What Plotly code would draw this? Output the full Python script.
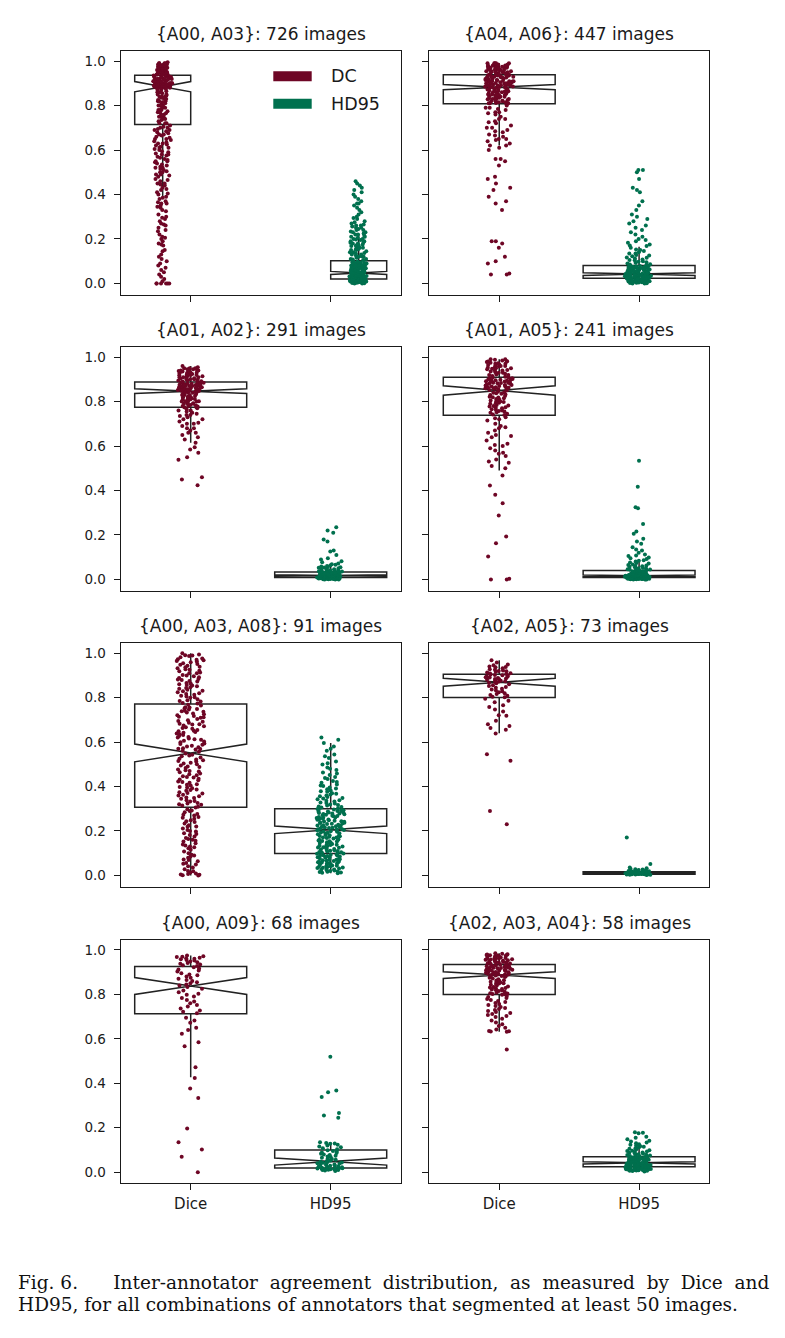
import plotly.graph_objects as go

# ---------------- data ----------------
TITLES = ["{A00, A03}: 726 images", "{A04, A06}: 447 images",
          "{A01, A02}: 291 images", "{A01, A05}: 241 images",
          "{A00, A03, A08}: 91 images", "{A02, A05}: 73 images",
          "{A00, A09}: 68 images", "{A02, A03, A04}: 58 images"]
CATEGORIES = ["Dice", "HD95"]
SERIES = ["DC", "HD95"]
Y_TICKS = [0.0, 0.2, 0.4, 0.6, 0.8, 1.0]
Y_TICK_LABELS = ["0.0", "0.2", "0.4", "0.6", "0.8", "1.0"]

# sample values (in percent)
dc_a00_a03 = [99, 99, 99, 98, 98, 98, 98, 98, 97, 97, 97, 97, 97, 97, 96, 96, 96, 96, 96, 96, 95, 95, 95, 95, 95, 95,
              94, 94, 94, 94, 94, 93, 93, 93, 93, 99.5, 98.5, 98.5, 97.5, 97.5, 96.5, 96.5, 95.5, 95.5, 94.5, 94.5,
              93.5, 93.5, 98, 97, 96, 95, 94, 97, 96, 95, 98, 97, 96, 95, 94, 93, 99, 98, 97, 96,
              92, 92, 92, 92, 91, 91, 91, 91, 90, 90, 90, 90, 89, 89, 89, 89, 88.5, 88.5, 92.5, 91.5, 90.5, 89.5,
              92, 91, 90, 89, 92, 91, 90, 89, 88, 92, 91, 90, 89, 88, 91, 90, 89, 92.5, 91.5, 90.5, 89.5, 88.8,
              93, 92, 91, 90, 89, 88,
              88, 87, 87, 86, 86, 85, 85, 84, 84, 83, 83, 82, 82, 81, 80, 80, 79, 79, 78, 77, 77, 76, 75, 75, 74,
              73, 72, 72, 87.5, 86.5, 85.5, 84.5, 83.5, 82.5, 81.5, 80.5, 79.5, 78.5, 77.5, 76.5, 74.5, 73.5,
              88, 86, 84, 82, 80, 78, 76, 74, 72,
              71, 70, 70, 69, 69, 68, 67, 67, 66, 65, 65, 64, 63, 63, 62, 61, 61, 60, 59, 58, 58, 57, 56, 55, 55,
              54, 53, 52, 52, 51, 50, 50, 49, 49, 48, 47, 46, 45, 45, 44, 43, 42, 41, 40, 39, 38, 37, 36, 36, 35,
              34, 33, 31, 30, 29, 28, 27, 26, 25, 24, 22, 21, 20, 19, 18, 17, 15, 13, 11, 10, 8, 7, 6, 4, 3, 1,
              0, 0, 0, 0, 0, 0,
              70.5, 69.5, 68.5, 67.5, 66.5, 65.5, 64.5, 63.5, 62.5, 61.5, 60.5, 59.5, 58.5, 57.5, 56.5, 55.5,
              54.5, 53.5, 52.5, 51.5, 50.5, 48.5, 46.5, 44.5, 42.5, 40.5, 38.5, 36.5, 34.5, 32.5, 29.5, 26.5,
              23.5, 20.5, 17.5, 14.5, 12, 9, 5, 2]
hd_a00_a03 = [0, 0, 0.5, 0.5, 1, 1, 1, 1.5, 1.5, 2, 0.3, 0.8, 1.2, 1.7, 0.6, 1.1, 1.6, 0.2, 0.9, 1.4, 1.9, 0.4,
              1.3, 1.8, 0.7, 1, 1.5, 0.5, 1.2, 1.8, 0.1, 0.9, 1.6, 1.3, 0.6, 1.9, 0.8, 1.4, 1.1, 1.7,
              2, 2, 2.5, 2.5, 3, 3, 3, 3.5, 3.5, 4, 4, 4, 4.5, 4.5, 5, 5, 5, 5.5, 5.5, 6, 6, 6.5, 6.5, 7, 7,
              7.5, 7.5, 8, 8, 8.5, 8.5, 9, 9, 9.5, 9.5, 10, 2.2, 2.8, 3.2, 3.8, 4.2, 4.8, 5.2, 5.8, 6.2, 6.8,
              7.2, 7.8, 8.2, 8.8, 9.2, 9.8, 2.4, 3.1, 3.6, 4.1, 4.7, 5.3, 5.9, 6.4, 7.1, 7.6, 8.3, 8.9, 9.4,
              2.6, 3.4, 4.3, 5.1, 6.1, 7.3, 8.1, 9.1, 3.3, 4.6, 5.7, 6.6, 7.4, 2.9, 3.9, 4.9,
              10.5, 11, 11, 12, 12, 13, 13, 14, 14, 15, 15, 16, 16, 17, 17, 18, 18, 19, 19, 20, 20, 21, 21, 22,
              22, 23, 23, 24, 24, 25, 25, 26, 26, 27, 28, 29, 30, 31, 32, 33, 34, 35, 36, 36, 37, 38, 39, 40,
              41, 42, 43, 44, 45, 46, 11.5, 12.5, 13.5, 14.5, 15.5, 16.5, 17.5, 18.5, 19.5, 20.5, 22.5, 24.5,
              26.5, 10.8, 12.2, 13.7, 15.2, 16.8, 18.3, 19.8, 21.4, 23.3, 25.6, 27.5, 29.4]

dc_a04_a06 = [99, 99, 99, 98.5, 98.5, 98, 98, 98, 97.5, 97.5, 97, 97, 97, 96.5, 96.5, 96, 96, 96, 95.5, 95.5, 95,
              95, 95, 94.5, 94.5, 94, 94, 99, 98, 97, 96, 95, 94, 98, 97, 96, 95, 94, 99, 98, 97, 96, 95, 94,
              97.5, 96.5, 95.5,
              93.5, 93.5, 93, 93, 92.5, 92.5, 92, 92, 91.5, 91.5, 91, 91, 90.5, 90.5, 90, 90, 89.5, 89.5, 89, 89,
              88.5, 88.5, 93, 92, 91, 90, 89, 93, 92, 91, 90, 89, 88.4, 93.2, 92.2, 91.2, 90.2, 89.2, 93.8, 92.8,
              91.8, 90.8, 89.8, 88.8, 92.6, 91.4, 90.6, 89.4, 88.6, 93.4,
              88, 88, 87.5, 87, 87, 86.5, 86, 86, 85.5, 85, 85, 84.5, 84, 84, 83.5, 83, 83, 82.5, 82, 82, 81.5,
              81, 81, 88, 87, 86, 85, 84, 83, 82, 81, 87.5, 86.5, 85.5, 84.5, 83.5, 82.5, 81.5, 80.9, 87.2, 86.2,
              85.2, 84.2, 83.2, 82.2, 81.2, 88.2, 86.8, 84.8, 82.8,
              80, 79, 79, 78, 77, 77, 76, 75, 74, 74, 73, 72, 71, 70, 70, 69, 68, 67, 66, 65, 65, 64, 63, 62,
              78.5, 76.5, 72.5, 68.5, 66.5, 64.5,
              61, 62, 60, 56, 55, 56, 53, 48, 47, 45, 43, 42, 39, 37, 36, 33, 19, 18, 19, 16, 12, 10, 9, 4, 4, 4.5]
hd_a04_a06 = [0, 0, 0.3, 0.5, 0.8, 1, 1, 1.2, 1.5, 1.5, 1.7, 2, 2, 2.2, 0.2, 0.6, 0.9, 1.1, 1.3, 1.6, 1.8, 2.1,
              0.4, 0.7, 1.4, 1.9, 0.1, 1.2, 1.7, 2.2, 0.5, 1, 1.5, 2, 0.8, 1.3, 1.8, 0.3, 0.9, 1.6, 2.1,
              2.4, 2.6, 2.8, 3, 3, 3.2, 3.4, 3.6, 3.8, 4, 4, 4.2, 4.4, 4.6, 4.8, 5, 5, 5.3, 5.6, 5.9, 6.2, 6.5,
              6.8, 7.1, 7.4, 7.7, 8, 2.5, 2.9, 3.3, 3.7, 4.1, 4.5, 4.9, 5.4, 5.8, 6.3, 6.7, 7.2, 7.6, 7.9,
              2.7, 3.1, 3.5, 3.9, 4.3, 4.7, 5.2, 5.7, 6.1, 6.6, 7, 7.5, 2.4, 3.2, 4, 4.8, 5.5, 6.4, 7.3,
              3, 3.6, 4.2, 4.4, 3.8, 4.6, 5.1, 6, 6.9, 7.8, 2.8, 3.4,
              8.3, 8.6, 9, 9.3, 9.7, 10, 10.4, 10.8, 11.2, 11.7, 12.2, 12.8, 13.4, 14, 14.6, 15.3, 16, 16.8,
              17.5, 18.3, 19, 20, 21, 22, 23, 24, 25, 26, 27, 28, 29, 30, 31, 8.5, 9.5, 10.5, 11.5, 12.5, 13.5,
              15, 17, 19.5, 33, 35, 37, 41, 42, 43, 47, 50, 51, 51]

dc_a01_a02 = [96, 95.5, 95, 95, 94.5, 94, 94, 93.5, 93, 93, 92.5, 92, 92, 91.5, 91, 91, 90.5, 90, 90, 89.5, 89, 89,
              95, 94, 93, 92, 91, 90, 89.2, 94.6, 93.4, 92.4, 91.4, 90.4, 89.6, 93.8, 92.8, 91.8, 90.8, 89.8,
              88.5, 88.5, 88, 88, 87.5, 87.5, 87, 87, 86.5, 86.5, 86, 86, 85.5, 85.5, 85, 85, 88.2, 87.8, 87.2,
              86.8, 86.2, 85.8, 85.2, 84.8, 88.6, 87.4, 86.4, 85.4, 84.9, 88, 87, 86, 85, 87.6, 86.6, 85.6, 84.8,
              84.5, 84, 84, 83.5, 83, 83, 82.5, 82, 82, 81.5, 81, 81, 80.5, 80, 80, 79.5, 79, 79, 78.5, 78, 77.5,
              84.2, 83.2, 82.2, 81.2, 80.2, 79.2, 78.2, 77.8, 84, 83, 82, 81, 80, 79, 78, 77.5,
              77, 76.5, 76, 75.5, 75, 74.5, 74, 73.5, 73, 72, 71, 70.5, 70, 69, 68, 67, 66, 65, 64, 63,
              76, 74, 72, 70, 68, 66, 61.5, 59.5, 58.5, 57, 55, 53.8, 46, 45, 42.4]
hd_a01_a02 = [0, 0, 0.2, 0.3, 0.4, 0.5, 0.5, 0.6, 0.7, 0.8, 0.8, 0.9, 0.1, 0.3, 0.5, 0.7, 0.9, 0.2, 0.4, 0.6, 0.8,
              0, 0.3, 0.6, 0.9, 0.1, 0.4, 0.7, 0.5, 0.2, 0.8, 0.6, 0.3, 0.7, 0.4,
              1, 1, 1.1, 1.2, 1.3, 1.4, 1.5, 1.5, 1.6, 1.7, 1.8, 1.9, 2, 2, 2.1, 2.2, 2.3, 2.4, 2.5, 2.6, 2.7,
              2.8, 2.9, 3, 3.1, 3.2, 1, 1.2, 1.4, 1.6, 1.8, 2, 2.2, 2.4, 2.6, 2.8, 3, 3.2, 1.1, 1.3, 1.5, 1.7,
              1.9, 2.1, 2.3, 2.5, 2.7, 2.9, 3.1, 1.5, 1.8, 2.1, 2.4, 1.2, 1.6, 2, 2.6, 3, 1.4, 1.9, 2.2, 1.7,
              1.3, 2.8, 1, 2.5, 1.8, 2.3, 1.6,
              3.4, 3.6, 3.8, 4, 4.2, 4.5, 4.8, 5, 5.3, 5.6, 6, 6.4, 6.8, 7.2, 7.7, 8.2, 3.5, 4.1, 4.6, 5.2, 5.8,
              6.6, 3.7, 4.4, 5.5, 9, 9.5, 11, 12.6, 13, 17, 18, 21, 22, 23.5]

dc_a01_a05 = [99, 99, 98.5, 98, 98, 97.5, 97, 97, 96.5, 96, 96, 95.5, 95, 95, 94.5, 94, 94, 93.5, 93, 93, 92.5, 92,
              92, 91.5, 91, 91.2, 98.2, 97.2, 96.2, 95.2, 94.2, 93.2, 92.2, 98.8, 97.8, 96.8, 95.8, 94.8,
              90.5, 90.5, 90, 90, 89.5, 89.5, 89, 89, 88.5, 88.5, 88, 88, 87.5, 87.5, 87, 87, 86.5, 86.5, 86, 86,
              85.5, 85.5, 85, 90.2, 89.2, 88.2, 87.2, 86.2, 85.2, 90.8, 89.8, 88.8, 87.8, 86.8, 85.8, 89.6, 88.4,
              86.4,
              84.5, 84, 83.5, 83, 82.5, 82, 81.5, 81, 80.5, 80, 79.5, 79, 78.5, 78, 77.5, 77, 76.5, 76, 75.5, 75,
              74.5, 74, 84.2, 83.2, 82.2, 81.2, 80.2, 79.2, 78.2, 77.2, 76.2, 75.2, 83.8, 81.8, 79.8, 77.8, 75.8,
              74.2,
              73, 72, 71.5, 70, 69, 68, 67, 66, 65, 64, 62.5, 61, 60, 59, 58, 57, 55.5, 54, 53, 51, 50,
              72.5, 68.5, 64.5, 60.5, 56.5, 52.5, 46.8, 42.3, 38.1, 34.3, 28.8, 19.3, 16.3, 10.3, 0, 0.3, 0]
hd_a01_a05 = [0, 0, 0.1, 0.2, 0.3, 0.3, 0.4, 0.5, 0.5, 0.6, 0.7, 0.7, 0.2, 0.4, 0.6, 0.1, 0.3, 0.5, 0.7, 0, 0.2,
              0.4, 0.6, 0.3, 0.5, 0.1, 0.6, 0.4, 0.2, 0.7, 0.5, 0.3, 0.6, 0.4, 0.2,
              0.8, 0.9, 1, 1, 1.1, 1.2, 1.3, 1.4, 1.5, 1.5, 1.6, 1.7, 1.8, 1.9, 2, 2.1, 2.2, 2.3, 2.5, 2.7, 2.9,
              3.1, 3.3, 3.5, 3.7, 3.9, 0.9, 1.1, 1.3, 1.5, 1.7, 1.9, 2.2, 2.6, 3, 3.4, 3.8, 1, 1.2, 1.4, 1.6,
              1.8, 2, 2.4, 2.8, 3.2, 3.6, 1.1, 1.3, 1.5, 1.6, 1.4, 1.2, 1.7, 2.1, 2.5, 1, 1.8, 1.5, 1.3, 2, 1.1,
              1.6, 0.9, 1.4, 2.3, 1.2, 1.9, 2.7, 3.5,
              4.1, 4.3, 4.6, 4.9, 5.2, 5.5, 5.9, 6.3, 6.7, 7.1, 7.6, 8.1, 8.6, 9.2, 9.8, 10.5, 11.2, 12, 4.4, 5,
              5.7, 6.5, 7.4, 8.4, 9.5, 10.8, 4.8, 6, 13, 13.5, 14.5, 16, 17, 18.3, 20.5, 21.6, 24.9, 32, 32.5,
              41.7, 53.4]

dc_a00_a03_a08 = [100, 99.4, 98.9, 98.7, 98.1, 97.6, 97.3, 96.8, 96.2, 95.9, 95.1, 94.8, 94.3, 93.9, 93.2, 92.7,
                  92.5, 91.8, 91.3, 90.9, 90.2, 89.6, 89.1, 88.8, 88.1, 87.5, 87.2, 86.6, 86.0, 85.7, 85.1, 84.6,
                  84.0, 83.5, 83.1, 82.4, 81.9, 81.3, 80.8, 80.2, 79.9, 79.3, 78.8, 78.2, 77.6, 77.3, 99.1, 97.0,
                  95.5, 93.6, 91.0, 89.9, 87.9, 86.3, 84.3, 82.8, 80.5, 78.5, 96.5, 92.1, 88.4, 85.4, 81.6,
                  76.8, 76.4, 75.7, 75.2, 74.9, 74.1, 73.6, 73.3, 72.5, 72.0, 71.7, 71.1, 70.4, 69.8, 69.5, 68.7,
                  68.2, 67.9, 67.1, 66.6, 66.0, 65.4, 64.9, 64.5, 63.8, 63.2, 62.7, 62.3, 61.6, 61.0, 60.6, 59.9,
                  59.4, 58.8, 58.3, 57.7, 57.2, 56.6, 56.1, 55.6, 75.5, 73.9, 71.4, 69.1, 67.4, 65.1, 63.5, 61.3,
                  59.1, 57.0, 74.6, 70.9, 66.3, 62.0, 58.0, 72.8, 68.0, 64.2, 60.2, 56.9,
                  54.9, 54.3, 53.6, 53.1, 52.5, 51.8, 51.2, 50.7, 50.0, 49.4, 48.8, 48.3, 47.6, 47.0, 46.4, 45.9,
                  45.1, 44.6, 44.0, 43.5, 42.8, 42.2, 41.7, 41.0, 40.5, 39.8, 39.2, 38.7, 38.1, 37.4, 36.9, 36.3,
                  35.6, 35.1, 34.5, 33.8, 33.2, 32.6, 32.0, 31.4, 30.9, 53.9, 51.5, 49.0, 46.7, 44.3, 42.0, 39.5,
                  37.1, 34.8, 32.3, 52.2, 47.3, 43.1, 38.4, 33.5, 50.4, 45.5, 40.8, 36.0, 31.8,
                  30.5, 29.8, 29.2, 28.4, 27.6, 27.0, 26.3, 25.5, 24.8, 24.0, 23.3, 22.6, 21.9, 21.1, 20.4, 19.8,
                  19.0, 18.2, 17.5, 16.8, 16.0, 15.2, 14.5, 13.9, 13.0, 12.2, 11.5, 10.8, 10.0, 9.3, 8.5, 7.9,
                  7.1, 6.4, 5.6, 4.9, 4.1, 3.5, 2.8, 2.0, 1.3, 0.6, 0.0, 0.3, 0.1, 29.0, 25.9, 22.0, 18.6, 15.6,
                  12.7, 8.9, 5.2, 1.9, 0.8, 27.3, 20.0, 13.4, 6.9, 0.4, 24.4, 16.4]
hd_a00_a03_a08 = [1.0, 1.3, 1.6, 2.0, 2.2, 2.5, 2.9, 3.1, 3.4, 3.8, 4.0, 4.3, 4.7, 5.0, 5.2, 5.6, 5.9, 6.1, 6.5,
                  6.8, 7.0, 7.3, 7.7, 8.0, 8.2, 8.5, 8.9, 9.1, 9.4, 9.7, 1.5, 2.7, 3.6, 4.5, 5.4, 6.3, 7.2, 8.1,
                  9.0, 9.8, 1.8, 3.3, 4.9, 6.6, 8.4, 2.4, 4.1, 5.8, 7.5, 9.3, 1.2, 3.9, 6.0, 8.7,
                  10.0, 10.2, 10.5, 10.8, 11.1, 11.3, 11.6, 11.9, 12.2, 12.4, 12.7, 13.0, 13.3, 13.5, 13.8, 14.1,
                  14.4, 14.6, 14.9, 15.2, 15.5, 15.7, 16.0, 16.3, 16.6, 16.8, 17.1, 17.4, 17.7, 17.9, 18.2, 18.5,
                  18.8, 19.0, 19.3, 19.6, 19.9, 20.1, 20.4, 10.4, 11.5, 12.6, 13.7, 14.8, 15.9, 17.0, 18.1, 19.2,
                  20.3, 11.0, 13.2, 15.4, 17.6, 19.8,
                  20.6, 20.8, 21.1, 21.3, 21.6, 21.8, 22.1, 22.3, 22.6, 22.8, 23.1, 23.3, 23.6, 23.8, 24.1, 24.3,
                  24.6, 24.8, 25.1, 25.3, 25.6, 25.8, 26.1, 26.3, 26.6, 26.8, 27.1, 27.3, 27.6, 27.8, 28.1, 28.3,
                  28.6, 28.8, 29.1, 29.3, 29.6, 29.9, 20.9, 22.0, 23.2, 24.4, 25.5, 26.7, 27.9, 29.0, 21.4, 23.7,
                  26.0, 28.4, 22.5, 25.0, 27.5, 29.7,
                  30.2, 30.6, 31.0, 31.5, 31.9, 32.4, 32.8, 33.3, 33.8, 34.3, 34.8, 35.3, 35.9, 36.4, 37.0, 37.6,
                  38.2, 38.8, 39.5, 40.2, 40.9, 41.7, 42.5, 43.4, 44.3, 45.2, 46.3, 47.4, 48.6, 49.9, 51.3, 52.8,
                  54.4, 56.1, 58.0, 59.6, 62.0, 30.8, 31.7, 32.6, 33.6, 34.6, 35.6, 36.7, 37.9, 39.1, 40.5, 42.0,
                  43.8, 45.8, 48.0, 50.5, 53.6, 57.0, 61.0]

dc_a02_a05 = [96.8, 95.8, 94.9, 94.5, 94.0, 93.6, 93.2, 92.8, 92.5, 92.2, 91.9, 91.6, 91.3, 91.0, 90.8, 90.6, 93.8,
              92.0, 90.4, 90.2, 90.0, 89.8, 89.6, 89.4, 89.2, 89.0, 88.8, 88.6, 88.4, 88.2, 88.0, 87.8, 87.6,
              87.4, 87.2, 87.0, 86.7, 86.4, 86.0, 85.6, 85.2, 84.8, 84.4, 84.0, 83.6, 83.2, 82.8, 82.4, 82.0,
              81.6, 81.2, 80.8, 80.4, 80.1, 79.5, 78.6, 77.9, 76.5, 75.8, 74.6, 73.7, 72.0, 71.8, 69.6, 68.0,
              67.2, 66.3, 65.5, 63.8, 54.5, 51.6, 29.0, 23.0]
hd_a02_a05 = [0.2, 0.3, 0.4, 0.5, 0.5, 0.6, 0.6, 0.7, 0.7, 0.8, 0.8, 0.9, 0.9, 1.0, 1.0, 1.0, 1.1, 1.1, 1.2, 1.2,
              1.3, 1.3, 1.4, 1.4, 1.5, 1.5, 1.6, 1.7, 1.8, 1.9, 2.0, 2.2, 2.4, 2.6, 2.9, 3.2, 3.6, 5.1, 17.0,
              0.4, 0.6, 0.8, 1.0, 1.2, 1.4, 0.5, 0.7, 0.9, 1.1, 1.3, 0.3, 0.8, 1.0, 1.2, 0.6, 0.9, 1.1, 1.5,
              0.7, 1.0, 1.3, 0.4, 0.9, 1.2, 1.6, 2.1, 2.8, 0.8, 1.1, 1.4, 1.0, 0.6, 0.9]

dc_a00_a09 = [97.5, 97.2, 96.8, 96.5, 96.3, 96.0, 95.8, 95.5, 95.2, 94.8, 94.5, 94.1, 93.8, 93.4, 93.1, 92.8, 96.9,
              92.2, 91.6, 91.2, 90.7, 90.3, 89.5, 89.0, 88.6, 88.0, 87.5, 87.0, 86.5, 86.0, 85.5, 85.0, 84.5,
              84.0, 83.3, 82.5, 81.8, 81.0, 80.3, 79.8, 79.0, 78.4, 77.5, 76.8, 76.0, 75.2, 74.5, 73.6, 72.8,
              72.2, 71.5, 69.5, 67.2, 65.0, 64.0, 62.3, 58.5, 56.7, 47.2, 42.4, 37.6, 33.4, 19.7, 13.5, 10.2,
              6.9, 0.0, 68.3]
hd_a00_a09 = [0.5, 0.8, 1.0, 1.1, 1.2, 1.3, 1.4, 1.5, 1.5, 1.6, 1.7, 1.7, 1.8, 1.8, 1.9, 1.0, 1.3,
              2.0, 2.2, 2.4, 2.5, 2.7, 2.9, 3.0, 3.2, 3.4, 3.5, 3.7, 3.9, 4.0, 4.2, 4.4, 4.6, 4.7,
              5.0, 5.3, 5.6, 5.9, 6.2, 6.5, 6.8, 7.1, 7.4, 7.7, 8.0, 8.3, 8.6, 8.9, 9.2, 9.5, 9.9,
              10.3, 10.8, 11.2, 11.6, 12.0, 12.4, 12.8, 13.1, 13.5, 24.5, 25.5, 26.6, 33.8, 36.0, 36.7, 51.9, 12.9]

dc_a02_a03_a04 = [98.5, 98.3, 98.0, 97.8, 97.6, 97.4, 97.2, 97.0, 96.8, 96.6, 96.4, 96.2, 96.0, 95.8, 95.6, 95.4,
                  95.2, 95.0, 94.8, 94.6, 94.4, 94.2, 94.0, 93.8, 93.6, 98.1, 97.5, 96.9, 96.3, 95.7, 95.1, 94.5,
                  93.9, 97.7, 96.1,
                  93.3, 93.1, 92.9, 92.7, 92.5, 92.3, 92.1, 91.9, 91.7, 91.5, 91.3, 91.1, 90.9, 90.7, 90.5, 90.3,
                  90.1, 89.9, 89.7, 89.5, 89.3, 89.1, 88.9, 93.0, 92.4, 91.8, 91.2, 90.6, 90.0, 89.4, 88.8, 92.0,
                  90.8, 89.6, 88.9,
                  88.5, 88.2, 87.8, 87.5, 87.1, 86.8, 86.4, 86.1, 85.7, 85.4, 85.0, 84.7, 84.3, 84.0, 83.6, 83.3,
                  82.9, 82.6, 82.2, 81.9, 81.5, 81.2, 80.8, 80.5, 80.2, 87.9, 86.3, 84.9, 83.1, 81.7, 80.4, 88.3,
                  85.6, 82.4, 80.1,
                  79.8, 79.3, 78.8, 78.4, 77.9, 77.5, 77.0, 76.6, 76.1, 75.7, 75.2, 74.8, 74.3, 73.9, 73.4, 73.0,
                  72.5, 72.1, 71.6, 71.2, 70.7, 70.3, 69.8, 69.0, 68.2, 67.4, 66.6, 65.8, 65.0, 64.2, 63.5, 63.3,
                  63.4, 63.2, 55.2]
hd_a02_a03_a04 = [0.3, 0.5, 0.6, 0.8, 0.9, 1.0, 1.1, 1.2, 1.3, 1.4, 1.5, 1.6, 1.7, 1.8, 1.9, 2.0, 2.1, 2.2, 2.3,
                  2.4, 0.7, 1.0, 1.3, 1.6, 1.9, 2.2, 0.8, 1.2, 1.5, 1.8, 2.1, 2.4, 1.1, 1.7, 2.0,
                  2.5, 2.6, 2.7, 2.8, 2.9, 3.0, 3.1, 3.2, 3.3, 3.4, 3.5, 3.6, 3.7, 3.8, 3.9, 4.0, 4.1, 4.2, 2.6,
                  2.8, 3.0, 3.2, 3.4, 3.6, 3.8, 4.0, 2.7, 3.1, 3.5, 3.9, 2.9, 3.3, 3.7, 4.1, 3.0,
                  4.3, 4.4, 4.6, 4.7, 4.9, 5.0, 5.2, 5.3, 5.5, 5.6, 5.8, 5.9, 6.1, 6.2, 6.4, 6.5, 6.7, 6.8, 6.9,
                  4.5, 4.8, 5.1, 5.4, 5.7, 6.0, 6.3, 6.6, 4.4, 5.0, 5.6, 6.2, 6.8, 4.7, 5.5, 6.4,
                  7.1, 7.3, 7.5, 7.7, 7.9, 8.1, 8.3, 8.5, 8.7, 8.9, 9.1, 9.3, 9.5, 9.7, 9.9, 10.2, 10.5, 10.8,
                  11.1, 11.4, 11.7, 12.0, 12.3, 12.6, 13.0, 13.4, 13.8, 14.2, 14.8, 15.5, 16.0, 17.5, 17.8, 18.0,
                  7.8]

DC_VALUES = [dc_a00_a03, dc_a04_a06, dc_a01_a02, dc_a01_a05, dc_a00_a03_a08, dc_a02_a05, dc_a00_a09,
             dc_a02_a03_a04]
HD_VALUES = [hd_a00_a03, hd_a04_a06, hd_a01_a02, hd_a01_a05, hd_a00_a03_a08, hd_a02_a05, hd_a00_a09,
             hd_a02_a03_a04]

# box statistics: q1, median, q3, lower whisker, upper whisker, notch half-span
DC_BOX = [[0.715, 0.885, 0.936, 0.39, 0.99, 0.023],
          [0.808, 0.883, 0.939, 0.62, 0.99, 0.012],
          [0.774, 0.847, 0.888, 0.615, 0.96, 0.011],
          [0.738, 0.850, 0.910, 0.49, 0.99, 0.021],
          [0.307, 0.551, 0.771, 0.0, 1.0, 0.040],
          [0.800, 0.869, 0.905, 0.64, 0.968, 0.018],
          [0.713, 0.838, 0.926, 0.427, 0.975, 0.038],
          [0.800, 0.887, 0.935, 0.632, 0.985, 0.015]]
HD_BOX = [[0.020, 0.047, 0.102, 0.0, 0.22, 0.007],
          [0.023, 0.042, 0.080, 0.0, 0.165, 0.006],
          [0.009, 0.018, 0.033, 0.0, 0.068, 0.003],
          [0.008, 0.016, 0.040, 0.0, 0.086, 0.004],
          [0.099, 0.205, 0.300, 0.01, 0.596, 0.017],
          [0.005, 0.010, 0.016, 0.0, 0.03, 0.002],
          [0.019, 0.048, 0.100, 0.005, 0.135, 0.016],
          [0.025, 0.042, 0.070, 0.003, 0.13, 0.005]]

# ---------------- styling / layout ----------------
W, H = 785, 1338
DC_COLOR = "#6e0625"
HD_COLOR = "#00704e"
BOX_LINE = "#222222"
SANS = "DejaVu Sans"
SERIF = "DejaVu Serif"

DC_POS = [-0.2, 0, 0, 0, 0, 0, 0, 0]
HD_POS = [1.2, 1, 1, 1, 1, 1, 1, 1]
BOX_W = [0.4, 0.8, 0.8, 0.8, 0.8, 0.8, 0.8, 0.8]
JITTER = [0.17, 0.26, 0.26, 0.26, 0.26, 0.26, 0.26, 0.26]

COL_X = [(120.7, 400.7), (429.3, 709.0)]
ROW_Y = [(50.7, 294.5), (346.7, 590.5), (642.7, 886.5), (939.5, 1183.3)]

fig = go.Figure()


def ax_names(i):
    s = "" if i == 0 else str(i + 1)
    return "x" + s, "y" + s, "xaxis" + s, "yaxis" + s


def split_by_box(values, stats):
    """Group sample values by box region (fliers, whiskers, box body) for the strip plot."""
    q1, _, q3, lo, hi, _ = stats
    vals = [v / 100 for v in values]
    groups = [[v for v in vals if v < lo],
              [v for v in vals if lo <= v < q1],
              [v for v in vals if q1 <= v <= q3],
              [v for v in vals if q3 < v <= hi],
              [v for v in vals if v > hi]]
    return [g for g in groups if g]


for i in range(8):
    xr, yr, _, _ = ax_names(i)
    for stats, pos in ((DC_BOX[i], DC_POS[i]), (HD_BOX[i], HD_POS[i])):
        q1, med, q3, lo, hi, ns = stats
        fig.add_trace(go.Box(
            x=[pos], q1=[q1], median=[med], q3=[q3], lowerfence=[lo], upperfence=[hi],
            notchspan=[ns], notched=True, notchwidth=0.5, width=BOX_W[i], whiskerwidth=0,
            boxpoints=False, fillcolor="rgba(255,255,255,0)",
            line=dict(color=BOX_LINE, width=1.5), xaxis=xr, yaxis=yr,
            showlegend=False, hoverinfo="skip"))
    for vals, stats, pos, color, name in ((DC_VALUES[i], DC_BOX[i], DC_POS[i], DC_COLOR, SERIES[0]),
                                          (HD_VALUES[i], HD_BOX[i], HD_POS[i], HD_COLOR, SERIES[1])):
        for grp in split_by_box(vals, stats):
            fig.add_trace(go.Box(
                y=grp, x0=pos, name=name, boxpoints="all", jitter=JITTER[i],
                pointpos=0, width=0.8, fillcolor="rgba(0,0,0,0)",
                line=dict(color="rgba(0,0,0,0)", width=0), whiskerwidth=0,
                marker=dict(color=color, size=4, line=dict(width=0)),
                xaxis=xr, yaxis=yr, showlegend=False, hoverinfo="skip"))

layout = dict(width=W, height=H, margin=dict(l=0, r=0, t=0, b=0),
              paper_bgcolor="white", plot_bgcolor="white", boxmode="overlay",
              font=dict(family=SANS, color="#1a1a1a", size=13), showlegend=False)
annotations = []
shapes = []
for i in range(8):
    r, c = divmod(i, 2)
    _, yr, xk, yk = ax_names(i)
    x0, x1 = COL_X[c]
    y0, y1 = ROW_Y[r]
    axcommon = dict(showline=True, mirror=True, linecolor="#1a1a1a", linewidth=1.1, ticks="outside",
                    ticklen=6, tickwidth=1.1, tickcolor="#1a1a1a", showgrid=False, zeroline=False)
    layout[xk] = dict(axcommon, domain=[x0 / W, x1 / W], anchor=yr, range=[-0.5, 1.5],
                      tickmode="array", tickvals=[0, 1], ticktext=CATEGORIES, ticklabelstandoff=1,
                      tickfont=dict(family=SANS, size=15, color="#1a1a1a"),
                      showticklabels=(r == 3), fixedrange=True)
    layout[yk] = dict(axcommon, domain=[1 - y1 / H, 1 - y0 / H], anchor=ax_names(i)[0],
                      range=[-0.05, 1.047], tickmode="array", tickvals=Y_TICKS, ticklabelstandoff=5,
                      ticktext=Y_TICK_LABELS, tickfont=dict(family=SANS, size=13.5, color="#1a1a1a"),
                      showticklabels=(c == 0), fixedrange=True)
    annotations.append(dict(text=TITLES[i], xref="paper", yref="paper", x=(x0 + x1) / 2 / W,
                            y=1 - (y0 - 16.8) / H, xanchor="center", yanchor="middle",
                            showarrow=False, font=dict(family=SANS, size=17, color="#1a1a1a")))

# legend (inside first panel)
for k, (name, color) in enumerate(zip(SERIES, [DC_COLOR, HD_COLOR])):
    cy = 76.3 + 27.4 * k
    shapes.append(dict(type="rect", xref="paper", yref="paper", x0=273.3 / W, x1=311.7 / W,
                       y0=1 - (cy + 5) / H, y1=1 - (cy - 5) / H, fillcolor=color, line=dict(width=0)))
    annotations.append(dict(text=name, xref="paper", yref="paper", x=329 / W, y=1 - cy / H,
                            xanchor="left", yanchor="middle", showarrow=False,
                            font=dict(family=SANS, size=17.5, color="#1a1a1a")))

# caption
CAPTION = ["Fig. 6.      Inter-annotator  agreement  distribution,  as  measured  by  Dice  and",
           "HD95, for all combinations of annotators that segmented at least 50 images."]
for k, line in enumerate(CAPTION):
    annotations.append(dict(text=line, xref="paper", yref="paper", x=16 / W, y=1 - (1282.5 + 21.5 * k) / H,
                            xanchor="left", yanchor="middle", showarrow=False,
                            font=dict(family=SERIF, size=18.5, color="#111111")))

layout["annotations"] = annotations
layout["shapes"] = shapes
fig.update_layout(**layout)
fig.write_html("out.html")
